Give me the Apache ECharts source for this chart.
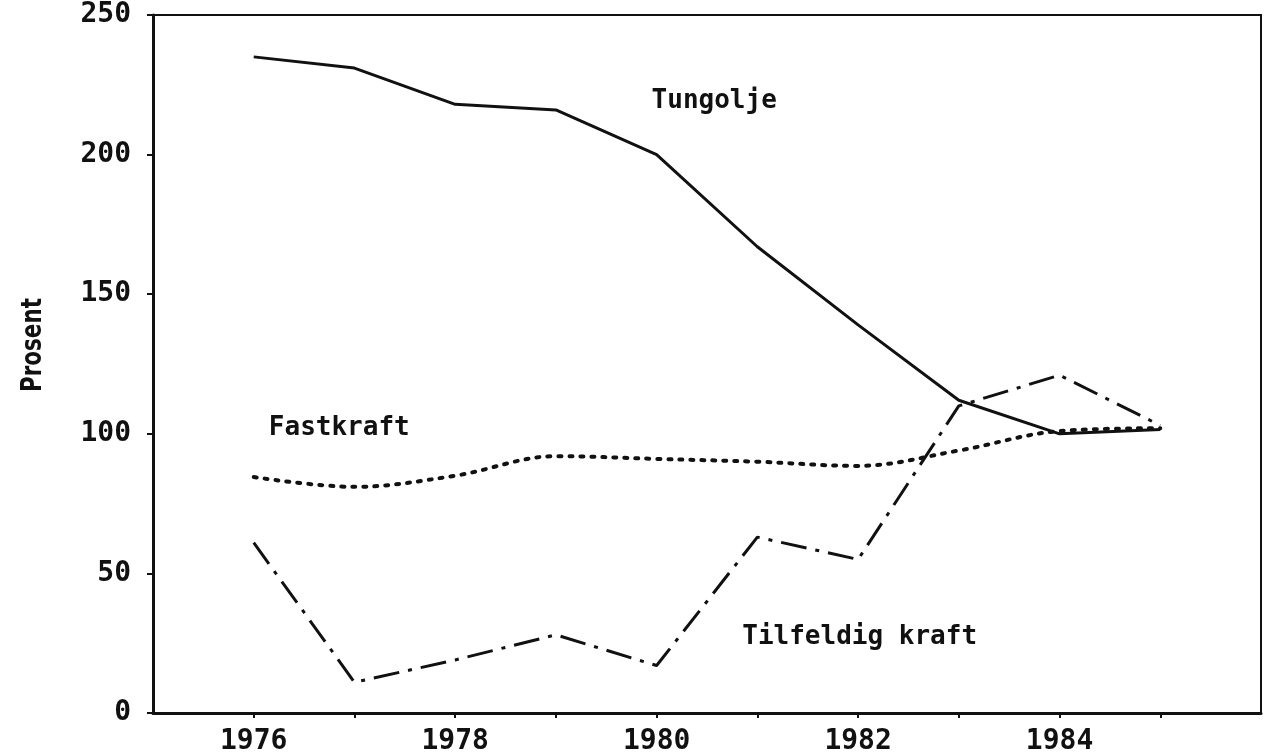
<!DOCTYPE html>
<html>
<head>
<meta charset="utf-8">
<title>Prosent</title>
<script src="https://cdn.jsdelivr.net/npm/echarts@6/dist/echarts.min.js"></script>
<style>
  html, body { margin: 0; padding: 0; background: #fff; }
  #main { width: 1270px; height: 756px; }
</style>
</head>
<body>
<div id="main"></div>
<script>
// data
var years = [1976, 1977, 1978, 1979, 1980, 1981, 1982, 1983, 1984, 1985];
var tungolje = [235, 231, 218, 216, 200, 167, 139, 112, 100, 101.5];
var fastkraft = [84.5, 81, 85, 92, 91, 90, 88.5, 94, 101, 102];
var tilfeldig = [61, 11, 19, 28, 17, 63, 55, 110, 121, 103];

var yTicks = [0, 50, 100, 150, 200, 250];

function pairs(vals) {
    return years.map(function (y, i) { return [y, vals[i]]; });
}

var plotFont = "'DejaVu Sans Mono', monospace";

var myChart = echarts.init(document.getElementById('main'), null, { renderer: 'canvas' });

var option = {
    backgroundColor: '#fff',
    animation: false,
    grid: {
        left: 153,
        right: 9,
        top: 15,
        bottom: 43,
        show: true,
        borderColor: '#111',
        borderWidth: 2
    },
    xAxis: {
        type: 'value',
        min: 1975,
        max: 1986,
        interval: 1,
        splitLine: { show: false },
        axisLine: { lineStyle: { color: '#111', width: 3 } },
        axisTick: { length: 5, lineStyle: { color: '#111', width: 2 } },
        axisLabel: {
            color: '#111',
            fontFamily: plotFont,
            fontWeight: 'bold',
            fontSize: 28,
            margin: 15,
            showMinLabel: false,
            showMaxLabel: false,
            formatter: function (v) {
                return (v % 2 === 0 && v < 1986) ? String(v) : '';
            }
        }
    },
    yAxis: {
        type: 'value',
        min: yTicks[0],
        max: yTicks[yTicks.length - 1],
        interval: 50,
        splitLine: { show: false },
        axisLine: { lineStyle: { color: '#111', width: 3 } },
        axisTick: { length: 6, lineStyle: { color: '#111', width: 2 } },
        axisLabel: {
            color: '#111',
            fontFamily: plotFont,
            fontWeight: 'bold',
            fontSize: 28,
            margin: 22
        }
    },
    series: [
        {
            name: 'Tungolje',
            type: 'line',
            data: pairs(tungolje),
            showSymbol: false,
            lineStyle: { color: '#111', width: 3 }
        },
        {
            name: 'Fastkraft',
            type: 'line',
            data: pairs(fastkraft),
            smooth: 0.35,
            showSymbol: false,
            lineStyle: { color: '#111', width: 4, type: [3, 8], cap: 'round' }
        },
        {
            name: 'Tilfeldig kraft',
            type: 'line',
            data: pairs(tilfeldig),
            showSymbol: false,
            lineStyle: { color: '#111', width: 3, type: [26, 9, 4, 9] }
        }
    ]
};

myChart.setOption(option);

// series names written inside the plot, anchored in data space
var notes = [
    { text: 'Tungolje', at: [1979.95, 219] },
    { text: 'Fastkraft', at: [1976.15, 102] },
    { text: 'Tilfeldig kraft', at: [1980.85, 27] }
];

var graphics = notes.map(function (n) {
    var p = myChart.convertToPixel({ gridIndex: 0 }, n.at);
    return {
        type: 'text',
        x: p[0],
        y: p[1],
        style: {
            text: n.text,
            fill: '#111',
            font: 'bold 26px ' + plotFont,
            textAlign: 'left',
            textVerticalAlign: 'middle'
        }
    };
});

// axis title, squeezed to look like a condensed face
graphics.push({
    type: 'text',
    x: 33,
    y: 345,
    rotation: Math.PI / 2,
    scaleX: 0.74,
    style: {
        text: 'Prosent',
        fill: '#111',
        font: 'bold 29px "DejaVu Sans", sans-serif',
        textAlign: 'center',
        textVerticalAlign: 'middle'
    }
});

myChart.setOption({ graphic: graphics });
</script>
</body>
</html>
